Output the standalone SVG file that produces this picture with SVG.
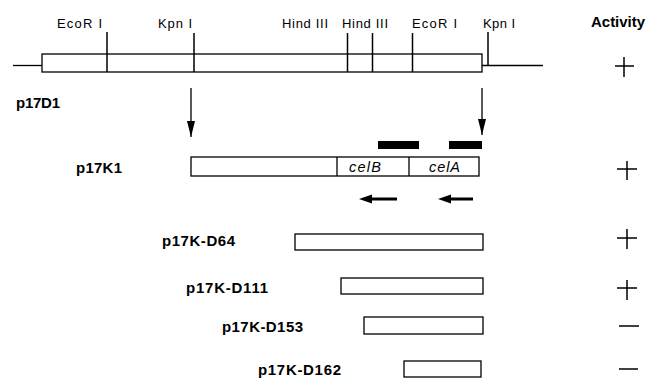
<svg xmlns="http://www.w3.org/2000/svg" width="649" height="378" viewBox="0 0 649 378">
<defs>
<style>
.ln{stroke:#000;stroke-width:1.3;fill:none}
.bx{stroke:#000;stroke-width:1.3;fill:#fff}
.tk{stroke:#000;stroke-width:1.5}
.site{font-family:"Liberation Sans",Arial,sans-serif;font-size:13px;fill:#000}
.lbl{font-family:"Liberation Sans",Arial,sans-serif;font-size:15px;font-weight:bold;fill:#000}
.gene{font-family:"Liberation Sans",Arial,sans-serif;font-size:14.5px;font-style:italic;fill:#000}
.sym{stroke:#000;stroke-width:1.5}
</style>
<marker id="ah" viewBox="0 0 16 8" refX="16" refY="4" markerWidth="16" markerHeight="8" markerUnits="userSpaceOnUse" orient="auto">
<path d="M0,0 L16,4 L0,8 Z" fill="#000"/>
</marker>
</defs>
<g id="header">
<text class="lbl" x="591" y="27" textLength="54">Activity</text>
</g>
<g id="p17D1">
<line class="ln" x1="13" y1="65.5" x2="42" y2="65.5"/>
<rect class="bx" x="42" y="54" width="440" height="18"/>
<line class="ln" x1="482" y1="65.5" x2="543" y2="65.5"/>
<line class="tk" x1="107" y1="32" x2="107" y2="72"/>
<line class="tk" x1="194" y1="33" x2="194" y2="72"/>
<line class="tk" x1="347.5" y1="33" x2="347.5" y2="72"/>
<line class="tk" x1="372.5" y1="33" x2="372.5" y2="72"/>
<line class="tk" x1="412.5" y1="33" x2="412.5" y2="72"/>
<line class="tk" x1="488" y1="32" x2="488" y2="65.5"/>
<text class="site" x="57" y="28" textLength="45">EcoR I</text>
<text class="site" x="158" y="28" textLength="34">Kpn I</text>
<text class="site" x="282" y="28" textLength="46">Hind III</text>
<text class="site" x="342" y="28" textLength="46">Hind III</text>
<text class="site" x="412" y="28" textLength="45">EcoR I</text>
<text class="site" x="483" y="28" textLength="32">Kpn I</text>
<text class="lbl" x="16" y="108" textLength="44">p17D1</text>
</g>
<g id="connectors">
<line class="ln" x1="191" y1="88" x2="191" y2="137" marker-end="url(#ah)"/>
<line class="ln" x1="482" y1="88" x2="482" y2="135" marker-end="url(#ah)"/>
</g>
<g id="p17K1">
<rect x="378" y="141" width="41" height="8" fill="#000"/>
<rect x="449" y="141" width="33" height="8" fill="#000"/>
<rect class="bx" x="191" y="157" width="288" height="19"/>
<line class="ln" x1="337" y1="157" x2="337" y2="176"/>
<line class="ln" x1="409" y1="157" x2="409" y2="176"/>
<text class="gene" x="349" y="172" textLength="32">celB</text>
<text class="gene" x="429" y="172" textLength="31">celA</text>
<text class="lbl" x="76" y="173" textLength="46">p17K1</text>
<path d="M359,199 L372,194.5 L372,197.5 L397,197.5 L397,200.5 L372,200.5 L372,203.5 Z" fill="#000"/>
<path d="M438,199 L451,194.5 L451,197.5 L473,197.5 L473,200.5 L451,200.5 L451,203.5 Z" fill="#000"/>
</g>
<g id="p17K-D64">
<rect class="bx" x="295" y="234" width="188" height="16"/>
<text class="lbl" x="162" y="246" textLength="73">p17K-D64</text>
</g>
<g id="p17K-D111">
<rect class="bx" x="341" y="278" width="142" height="16"/>
<text class="lbl" x="186" y="293" textLength="82">p17K-D111</text>
</g>
<g id="p17K-D153">
<rect class="bx" x="364" y="317" width="119" height="17"/>
<text class="lbl" x="222" y="332" textLength="81">p17K-D153</text>
</g>
<g id="p17K-D162">
<rect class="bx" x="404" y="361" width="77" height="16"/>
<text class="lbl" x="258" y="375" textLength="83">p17K-D162</text>
</g>
<g id="activity">
<line class="sym" x1="615" y1="66" x2="634" y2="66"/><line class="sym" x1="624" y1="57" x2="624" y2="77"/>
<line class="sym" x1="617" y1="169" x2="637" y2="169"/><line class="sym" x1="627" y1="161" x2="627" y2="180"/>
<line class="sym" x1="617" y1="238" x2="637" y2="238"/><line class="sym" x1="627" y1="229" x2="627" y2="249"/>
<line class="sym" x1="617" y1="288" x2="637" y2="288"/><line class="sym" x1="627" y1="280" x2="627" y2="300"/>
<line class="sym" x1="619" y1="326" x2="639" y2="326"/>
<line class="sym" x1="619" y1="369" x2="638" y2="369"/>
</g>
</svg>
